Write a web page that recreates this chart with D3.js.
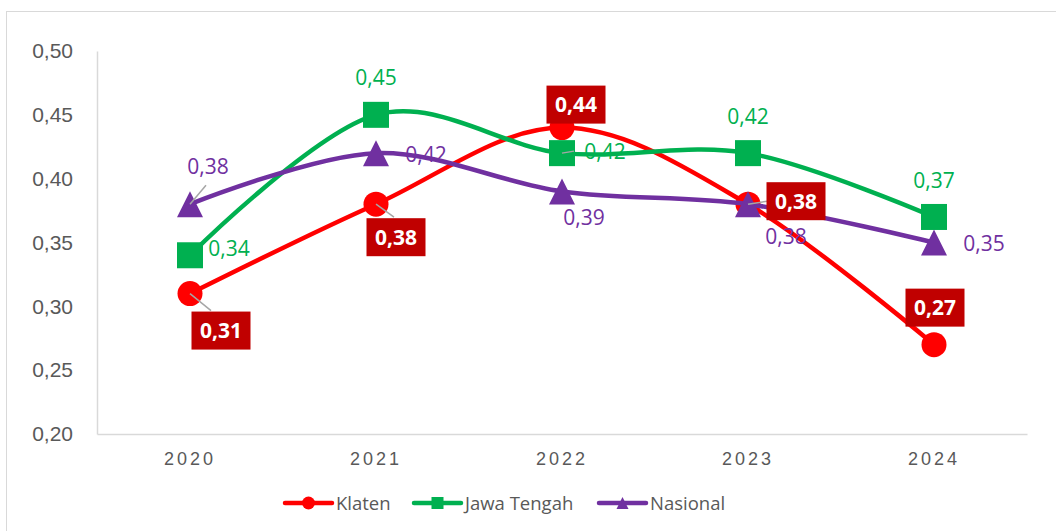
<!DOCTYPE html>
<html>
<head>
<meta charset="utf-8">
<script src="https://cdn.jsdelivr.net/npm/d3@7"></script>
<style>
  body { margin: 0; background: #fff; }
  svg { display: block; font-family: 'Open Sans', 'Noto Sans', sans-serif; }
</style>
</head>
<body>
<div id="chart"></div>
<script>
const years = ['2020', '2021', '2022', '2023', '2024'];
const seriesNames = ['Klaten', 'Jawa Tengah', 'Nasional'];
const klaten = [0.31, 0.38, 0.44, 0.38, 0.27];
const jawaTengah = [0.34, 0.45, 0.42, 0.42, 0.37];
const nasional = [0.38, 0.42, 0.39, 0.38, 0.35];
const yTicks = [0.20, 0.25, 0.30, 0.35, 0.40, 0.45, 0.50];

// label placement (px offsets from the point), [dx, dy, leaderDx, leaderDy]
const labelPos = [
  [[31, 37, 21, 17], [20, 33, 18, 13], [14, -23], [48, -3, 19, -3], [1, -37]],
  [[39, -7], [0, -37], [43, -2, 12, -2], [0, -37], [0, -37]],
  [[18, -38, 16, -19], [50, 1], [22, 26], [38, 32], [50, 1]]
];

const colors = ['#FF0000', '#00B050', '#7030A0'];
const markers = ['circle', 'square', 'triangle'];
const allSeries = [klaten, jawaTengah, nasional];

const W = 1056, H = 531;
const margin = { top: 51, right: 29, bottom: 97, left: 97 };
const width = W - margin.left - margin.right;
const height = H - margin.top - margin.bottom;

const svg = d3.select('#chart').append('svg')
  .attr('width', W)
  .attr('height', H);

// chart frame
svg.append('rect')
  .attr('x', 6.5).attr('y', 11.5)
  .attr('width', 1200).attr('height', 700)
  .attr('fill', 'none')
  .attr('stroke', '#D9D9D9');

const g = svg.append('g')
  .attr('transform', 'translate(' + margin.left + ',' + margin.top + ')');

const x = d3.scaleBand()
  .domain(years)
  .range([0, width]);

const y = d3.scaleLinear()
  .domain([0.20, 0.50])
  .range([height, 0]);

const fmt = v => d3.format('.2f')(v).replace('.', ',');
const cx = d => x(d) + x.bandwidth() / 2;

// y axis
const yAxis = g.append('g')
  .call(d3.axisLeft(y).tickValues(yTicks).tickFormat(fmt).tickSize(0).tickPadding(24));
yAxis.select('.domain').attr('stroke', '#D9D9D9').attr('stroke-width', 1.5);
yAxis.selectAll('text')
  .style('font-size', '21px')
  .attr('fill', '#595959');

// x axis
const xAxis = g.append('g')
  .attr('transform', 'translate(0,' + height + ')')
  .call(d3.axisBottom(x).tickSize(0).tickPadding(18));
xAxis.select('.domain').attr('stroke', '#D9D9D9').attr('stroke-width', 1.5);
xAxis.selectAll('text')
  .style('font-size', '18px')
  .style('letter-spacing', '3px')
  .attr('fill', '#595959');

const line = d3.line()
  .x((d, i) => cx(years[i]))
  .y(d => y(d))
  .curve(d3.curveCardinal.tension(0));

function drawMarker(sel, type, color, size) {
  if (type === 'circle') {
    sel.append('circle').attr('r', size / 2).attr('fill', color);
  } else if (type === 'square') {
    sel.append('rect')
      .attr('x', -size / 2).attr('y', -size / 2)
      .attr('width', size).attr('height', size)
      .attr('fill', color);
  } else {
    const h = size;
    sel.append('path')
      .attr('d', 'M0,' + (-h / 2) + 'L' + (size / 2) + ',' + (h / 2) + 'L' + (-size / 2) + ',' + (h / 2) + 'Z')
      .attr('fill', color);
  }
}

allSeries.forEach((vals, s) => {
  g.append('path')
    .datum(vals)
    .attr('fill', 'none')
    .attr('stroke', colors[s])
    .attr('stroke-width', 4.5)
    .attr('stroke-linecap', 'round')
    .attr('d', line);

  vals.forEach((v, i) => {
    const m = g.append('g')
      .attr('transform', 'translate(' + cx(years[i]) + ',' + y(v) + ')');
    drawMarker(m, markers[s], colors[s], s === 0 ? 25 : 26);
  });
});

// data labels
allSeries.forEach((vals, s) => {
  vals.forEach((v, i) => {
    const p = labelPos[s][i];
    const px = cx(years[i]), py = y(v);
    if (p.length > 2) {
      g.append('line')
        .attr('x1', px).attr('y1', py)
        .attr('x2', px + p[2]).attr('y2', py + p[3])
        .attr('stroke', '#A6A6A6')
        .attr('stroke-width', 1.5);
    }
    if (s === 0) {
      g.append('rect')
        .attr('x', px + p[0] - 29.5).attr('y', py + p[1] - 19)
        .attr('width', 59).attr('height', 38)
        .attr('fill', '#C00000');
      g.append('text')
        .attr('x', px + p[0]).attr('y', py + p[1])
        .attr('dy', '0.36em')
        .attr('text-anchor', 'middle')
        .style('font-size', '21px')
        .style('font-weight', 'bold')
        .attr('fill', '#fff')
        .text(fmt(v));
    } else {
      g.append('text')
        .attr('x', px + p[0]).attr('y', py + p[1])
        .attr('dy', '0.36em')
        .attr('text-anchor', 'middle')
        .style('font-size', '21px')
        .attr('fill', colors[s])
        .text(fmt(v));
    }
  });
});

// legend
const legendX = [285, 414, 599];
seriesNames.forEach((name, s) => {
  const lg = svg.append('g')
    .attr('transform', 'translate(' + legendX[s] + ',503)');
  lg.append('line')
    .attr('x1', 0).attr('x2', 47)
    .attr('stroke', colors[s])
    .attr('stroke-width', 4.5)
    .attr('stroke-linecap', 'round');
  const mk = lg.append('g').attr('transform', 'translate(23.5,0)');
  drawMarker(mk, markers[s], colors[s], s === 0 ? 13 : 12);
  lg.append('text')
    .attr('x', 51)
    .attr('dy', '0.36em')
    .style('font-size', '18.5px')
    .attr('fill', '#595959')
    .text(name);
});
</script>
</body>
</html>
